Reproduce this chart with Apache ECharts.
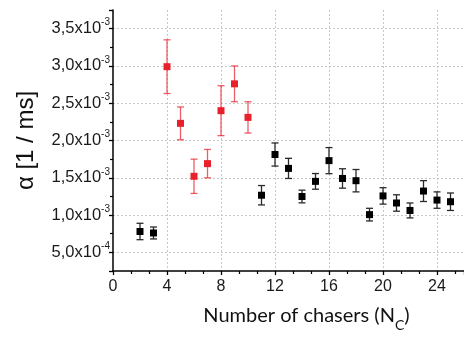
<!DOCTYPE html>
<html>
<head>
<meta charset="utf-8">
<script src="https://cdn.jsdelivr.net/npm/echarts@6/dist/echarts.min.js"></script>
<style>
  html, body { margin: 0; padding: 0; background: #fff; }
  #chart { width: 464px; height: 337px; }
</style>
</head>
<body>
<div id="chart"></div>
<script>
// red points (N_c = 4..10)
const xRed = [4, 5, 6, 7, 8, 9, 10];
const yRed = [2.99e-3, 2.23e-3, 1.52e-3, 1.69e-3, 2.40e-3, 2.76e-3, 2.31e-3];
const errRed = [0.36e-3, 0.22e-3, 0.23e-3, 0.19e-3, 0.335e-3, 0.24e-3, 0.21e-3];

// black points
const xBlack = [2, 3, 11, 12, 13, 14, 15, 16, 17, 18, 19, 20, 21, 22, 23, 24, 25];
const yBlack = [0.78e-3, 0.76e-3, 1.266e-3, 1.812e-3, 1.626e-3, 1.249e-3, 1.452e-3, 1.730e-3,
  1.491e-3, 1.461e-3, 1.006e-3, 1.257e-3, 1.162e-3, 1.062e-3, 1.322e-3, 1.201e-3, 1.179e-3];
const errBlack = [0.11e-3, 0.08e-3, 0.13e-3, 0.155e-3, 0.135e-3, 0.085e-3, 0.105e-3, 0.175e-3,
  0.13e-3, 0.15e-3, 0.085e-3, 0.11e-3, 0.11e-3, 0.1e-3, 0.14e-3, 0.11e-3, 0.117e-3];

const RED = "#e8202c";
const chart = echarts.init(document.getElementById("chart"));

const toRows = (xs, ys, es) => xs.map((x, i) => [x, ys[i], es[i]]);

function errorBars(color) {
  return function (params, api) {
    const x = api.value(0), y = api.value(1), e = api.value(2);
    const top = api.coord([x, y + e]);
    const bot = api.coord([x, y - e]);
    const w = 3.5;
    const style = { stroke: color, lineWidth: 1.3, fill: null };
    return {
      type: "group",
      children: [
        { type: "line", shape: { x1: top[0], y1: top[1], x2: bot[0], y2: bot[1] }, style },
        { type: "line", shape: { x1: top[0] - w, y1: top[1], x2: top[0] + w, y2: top[1] }, style },
        { type: "line", shape: { x1: bot[0] - w, y1: bot[1], x2: bot[0] + w, y2: bot[1] }, style }
      ]
    };
  };
}

// "3,5x10^-3" style labels
function sciLabel(v) {
  const exp = Math.floor(Math.log10(v) + 1e-9);
  const m = (v / Math.pow(10, exp)).toFixed(1).replace(".", ",");
  return "{m|" + m + "x10}{s|" + exp + "}";
}

const tickFont = { fontFamily: "Liberation Sans", fontSize: 16, color: "#1a1a1a" };

const option = {
  backgroundColor: "#fff",
  animation: false,
  grid: { left: 113, right: -7, top: 10, bottom: 57 },
  xAxis: {
    type: "value",
    min: 0, max: 26, interval: 4,
    name: "{t|Number of chasers (N}{s|C}{t|)}",
    nameLocation: "middle",
    nameGap: 35,
    nameTextStyle: {
      padding: [0, 0, 0, 36],
      rich: {
        t: { fontFamily: "Lato", fontSize: 20, color: "#111", lineHeight: 26, verticalAlign: "top" },
        s: { fontFamily: "Lato", fontSize: 14, color: "#111", verticalAlign: "bottom", lineHeight: 14 }
      }
    },
    axisLine: { lineStyle: { color: "#000", width: 1.5 } },
    axisTick: { length: 4, lineStyle: { color: "#000", width: 1.3 } },
    minorTick: { show: true, splitNumber: 3, length: 3, lineStyle: { color: "#000", width: 1.2 } },
    axisLabel: Object.assign({ margin: 8, showMaxLabel: false,
      formatter: v => (v <= 24 ? String(v) : "") }, tickFont),
    splitLine: { show: true, showMinLine: false, lineStyle: { color: "#c8c8c8", type: [2, 2], width: 1 } }
  },
  yAxis: {
    type: "value",
    min: 2.5e-4, max: 3.75e-3, splitNumber: 7,
    name: "α [1 / ms]",
    nameLocation: "middle",
    nameRotate: 90,
    nameGap: 75,
    nameTextStyle: { fontFamily: "Liberation Sans", fontSize: 24, color: "#111" },
    axisLine: { show: true, lineStyle: { color: "#000", width: 1.5 } },
    axisTick: { length: 4, lineStyle: { color: "#000", width: 1.3 } },
    minorTick: { show: true, splitNumber: 2, length: 3, lineStyle: { color: "#000", width: 1.2 } },
    axisLabel: {
      margin: 3,
      showMinLabel: false, showMaxLabel: false,
      formatter: sciLabel,
      rich: {
        m: { fontFamily: "Liberation Sans", fontSize: 16.5, color: "#1a1a1a" },
        s: { fontFamily: "Liberation Sans", fontSize: 10, color: "#1a1a1a", verticalAlign: "top", lineHeight: 22 }
      }
    },
    splitLine: { show: true, showMinLine: false, showMaxLine: false,
      lineStyle: { color: "#c8c8c8", type: [2, 2], width: 1 } }
  },
  series: [
    {
      type: "custom",
      renderItem: errorBars("rgba(232,32,44,0.72)"),
      data: toRows(xRed, yRed, errRed),
      encode: { x: 0, y: 1 },
      z: 2
    },
    {
      type: "custom",
      renderItem: errorBars("#2a2a2a"),
      data: toRows(xBlack, yBlack, errBlack),
      encode: { x: 0, y: 1 },
      z: 2
    },
    {
      type: "scatter",
      symbol: "rect",
      symbolSize: 7,
      data: toRows(xRed, yRed, errRed),
      itemStyle: { color: RED, opacity: 1 },
      z: 3
    },
    {
      type: "scatter",
      symbol: "rect",
      symbolSize: 7,
      data: toRows(xBlack, yBlack, errBlack),
      itemStyle: { color: "#000", opacity: 1 },
      z: 3
    }
  ]
};

chart.setOption(option);
</script>
</body>
</html>
